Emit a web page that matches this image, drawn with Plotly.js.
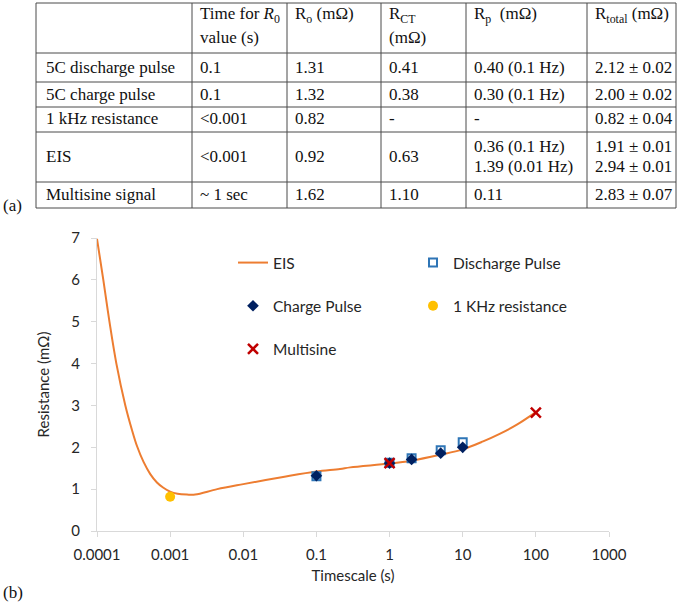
<!DOCTYPE html>
<html><head><meta charset="utf-8">
<script src="https://cdn.plot.ly/plotly-3.0.1.min.js"></script>
<style>html,body{margin:0;padding:0;background:#fff}#chart{width:685px;height:605px}</style>
</head><body><div id="chart"></div>
<script>
// ---- chart data (b) ----
const eisT = [1e-4, 1.22e-4, 1.48e-4, 1.84e-4, 2.44e-4, 3.0e-4, 3.52e-4, 4.33e-4, 5.35e-4, 6.6e-4, 8.0e-4, 1.0e-3, 1.26e-3, 1.7e-3, 2.2e-3, 4.4e-3, 0.01, 0.035, 0.1, 0.21, 0.29, 1, 2, 4.9, 10, 19, 32, 55, 100];
const eisR = [6.98, 6.0, 5.0, 4.0, 3.0, 2.42, 2.03, 1.65, 1.36, 1.16, 1.04, 0.94, 0.89, 0.87, 0.87, 1.0, 1.12, 1.29, 1.42, 1.48, 1.52, 1.61, 1.68, 1.82, 1.95, 2.14, 2.32, 2.54, 2.84];
const dischargeT = [0.1, 1, 2, 5, 10];
const dischargeR = [1.31, 1.63, 1.74, 1.93, 2.12];
const chargeT = [0.1, 1, 2, 5, 10];
const chargeR = [1.32, 1.62, 1.71, 1.86, 2.00];
const khzT = [0.001];
const khzR = [0.82];
const multiT = [1, 100];
const multiR = [1.62, 2.83];
const xTickVals = [0.0001, 0.001, 0.01, 0.1, 1, 10, 100, 1000];
const xTickText = ["0.0001", "0.001", "0.01", "0.1", "1", "10", "100", "1000"];
const yTickVals = [0, 1, 2, 3, 4, 5, 6, 7];

// ---- table data (a) ----
const tableHeaders = ["", "Time for <i>R</i><sub>0</sub><br>value (s)", "R<sub>o</sub> (mΩ)", "R<sub>CT</sub><br>(mΩ)", "R<sub>p</sub>  (mΩ)", "R<sub>total</sub> (mΩ)"];
const rowLabels = ["5C discharge pulse", "5C charge pulse", "1 kHz resistance", "EIS", "Multisine signal"];
const timeCol = ["0.1", "0.1", "&lt;0.001", "&lt;0.001", "~ 1 sec"];
const r0Col = ["1.31", "1.32", "0.82", "0.92", "1.62"];
const rctCol = ["0.41", "0.38", "-", "0.63", "1.10"];
const rpCol = ["0.40 (0.1 Hz)", "0.30 (0.1 Hz)", "-", "0.36 (0.1 Hz)<br>1.39 (0.01 Hz)", "0.11"];
const rtotCol = ["2.12 ± 0.02", "2.00 ± 0.02", "0.82 ± 0.04", "1.91 ± 0.01<br>2.94 ± 0.01", "2.83 ± 0.07"];

// ---- geometry ----
const W = 685, H = 605;
const M = {l: 97, r: 76, t: 238, b: 74, autoexpand: false};
const PW = W - M.l - M.r, PH = H - M.t - M.b;
const px = x => (x - M.l) / PW;
const py = y => (H - M.b - y) / PH;
const colEdges = [36, 192, 287, 381, 466, 587, 676];
const rowEdges = [3, 53, 82, 107, 132, 182, 208];
const serif = "Liberation Serif, Times New Roman, serif";
const sans = "Lato, Open Sans, sans-serif";
const tableLine = "#4a4a4a";
const serifSize = 17;

const shapes = [];
const annotations = [];
// table grid
rowEdges.forEach(y => shapes.push({type: 'line', xref: 'paper', yref: 'paper', x0: px(colEdges[0]), x1: px(colEdges[colEdges.length - 1]), y0: py(y), y1: py(y), line: {color: tableLine, width: 1}}));
colEdges.forEach(x => shapes.push({type: 'line', xref: 'paper', yref: 'paper', x0: px(x), x1: px(x), y0: py(rowEdges[0]), y1: py(rowEdges[rowEdges.length - 1]), line: {color: tableLine, width: 1}}));

function addText(t, x, y) {
  if (!t) return;
  annotations.push({text: t, xref: 'paper', yref: 'paper', x: px(x), y: py(y), xanchor: 'left', yanchor: 'middle', showarrow: false, font: {family: serif, size: serifSize, color: '#111'}});
}
function cellText(text, c, r, header) {
  const lines = text.split('<br>');
  const x = colEdges[c] + (c === 0 ? 8 : 6);
  if (header) {
    lines.forEach((ln, i) => addText(ln, x, 15 + i * 22));
    return;
  }
  const lh = 20;
  const top = rowEdges[r + 1], bot = rowEdges[r + 2];
  const mid = (top + bot) / 2 - 0.5;
  lines.forEach((ln, i) => addText(ln, x, mid + (i - (lines.length - 1) / 2) * lh));
}
tableHeaders.forEach((h, c) => cellText(h, c, -1, true));
const cols = [rowLabels, timeCol, r0Col, rctCol, rpCol, rtotCol];
cols.forEach((col, c) => col.forEach((t, r) => cellText(t, c, r, false)));

annotations.push({text: "(a)", xref: 'paper', yref: 'paper', x: px(1), y: py(206), xanchor: 'left', yanchor: 'middle', showarrow: false, font: {family: serif, size: serifSize, color: '#111'}});
annotations.push({text: "(b)", xref: 'paper', yref: 'paper', x: px(1), y: py(592), xanchor: 'left', yanchor: 'middle', showarrow: false, font: {family: serif, size: serifSize, color: '#111'}});

const traces = [
  {x: eisT, y: eisR, type: 'scatter', mode: 'lines', name: 'EIS', line: {color: '#ED7D31', width: 2, shape: 'spline', smoothing: 1}, legend: 'legend', legendgroup: 'g1'},
  {x: dischargeT, y: dischargeR, type: 'scatter', mode: 'markers', name: 'Discharge Pulse', marker: {symbol: 'square-open', size: 8, color: '#2E75B6', line: {width: 2, color: '#2E75B6'}}, legend: 'legend2', legendgroup: 'g2'},
  {x: chargeT, y: chargeR, type: 'scatter', mode: 'markers', name: 'Charge Pulse', marker: {symbol: 'diamond', size: 9, color: '#002060'}, legend: 'legend', legendgroup: 'g3'},
  {x: khzT, y: khzR, type: 'scatter', mode: 'markers', name: '1 KHz resistance', marker: {symbol: 'circle', size: 10, color: '#FFC000'}, legend: 'legend2', legendgroup: 'g4'},
  {x: multiT, y: multiR, type: 'scatter', mode: 'markers', name: 'Multisine', marker: {symbol: 'x-thin-open', size: 10, color: '#C00000', line: {width: 2.5, color: '#C00000'}}, legend: 'legend', legendgroup: 'g5'}
];

const axisGray = '#d9d9d9';
const layout = {
  width: W, height: H,
  margin: M,
  paper_bgcolor: '#fff', plot_bgcolor: '#fff',
  font: {family: sans, size: 15, color: '#262626'},
  showlegend: true,
  xaxis: {type: 'log', range: [-4, 3], tickvals: xTickVals, ticktext: xTickText, ticks: 'outside', ticklen: 5, tickcolor: axisGray, showline: true, linecolor: axisGray, linewidth: 1, showgrid: false, zeroline: false, ticklabelstandoff: 5, automargin: false,
    title: {text: 'Timescale (s)', font: {family: sans, size: 15}, standoff: 8}},
  yaxis: {range: [0, 7], tickvals: yTickVals, ticks: 'outside', ticklen: 5, tickcolor: axisGray, showline: true, linecolor: axisGray, linewidth: 1, showgrid: false, zeroline: false, ticklabelstandoff: 8, automargin: false,
    title: {text: 'Resistance (mΩ)', font: {family: sans, size: 15}, standoff: 18}},
  legend: {x: px(233), y: py(246), xanchor: 'left', yanchor: 'top', bgcolor: 'rgba(0,0,0,0)', font: {family: sans, size: 15.5, color: '#262626'}, tracegroupgap: 20, itemwidth: 30},
  legend2: {x: px(413), y: py(246), xanchor: 'left', yanchor: 'top', bgcolor: 'rgba(0,0,0,0)', font: {family: sans, size: 15.5, color: '#262626'}, tracegroupgap: 20, itemwidth: 30},
  shapes: shapes,
  annotations: annotations
};
Plotly.newPlot('chart', traces, layout, {displayModeBar: false, staticPlot: true});
</script></body></html>
